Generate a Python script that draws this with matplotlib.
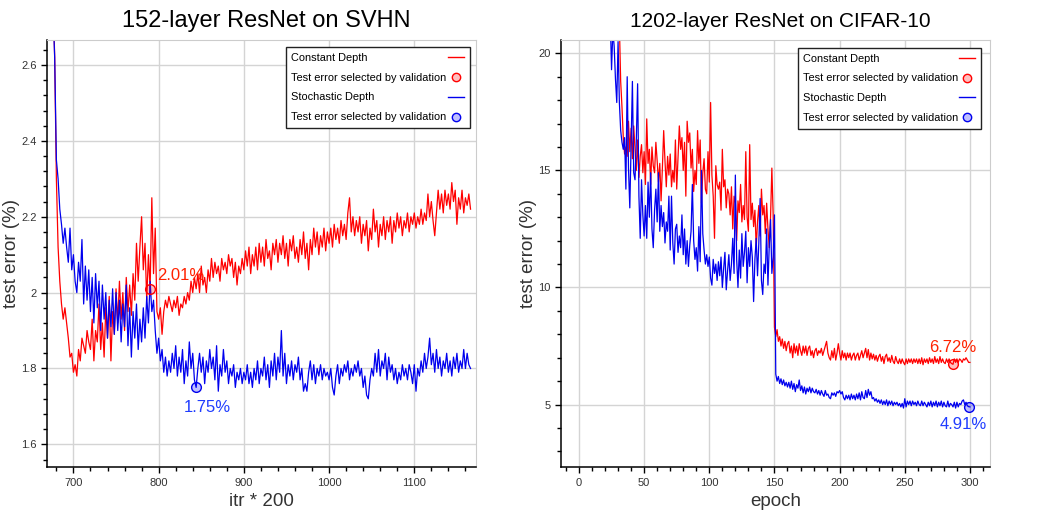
import numpy as np
import matplotlib
matplotlib.use('Agg')
import matplotlib.pyplot as plt
from matplotlib.lines import Line2D
from matplotlib.ticker import MultipleLocator, FormatStrFormatter

plt.rcParams['font.family'] = ['Liberation Sans', 'DejaVu Sans']

# ---- 152-layer ResNet on SVHN (one value every 2 itr*200, from 676)
svhn_start = 676
svhn_step = 2
svhn_const = [
    2.80, 2.62, 2.30, 2.12, 2.03, 1.97, 1.93, 1.96, 1.92, 1.88,
    1.83, 1.84, 1.79, 1.81, 1.78, 1.85, 1.82, 1.88, 1.86, 1.84,
    1.90, 1.87, 1.85, 1.93, 1.82, 1.90, 1.87, 1.97, 1.85, 1.92,
    1.83, 1.96, 1.88, 1.99, 1.82, 1.95, 1.89, 2.01, 1.92, 2.03,
    1.93, 2.00, 1.90, 2.04, 1.95, 2.02, 1.94, 2.05, 1.98, 2.13,
    2.03, 2.12, 2.20, 2.06, 2.13, 1.98, 2.10, 2.01, 2.25, 2.05,
    2.17, 1.95, 1.93, 1.96, 1.89, 1.95, 1.98, 1.96, 1.99, 1.97,
    1.95, 1.98, 1.96, 1.99, 1.94, 1.97, 1.96, 1.99, 1.97, 2.00,
    1.98, 2.03, 2.00, 2.04, 2.01, 2.05, 2.00, 2.07, 2.02, 2.04,
    2.00, 2.06, 2.03, 2.09, 2.04, 2.08, 2.05, 2.07, 2.03, 2.09,
    2.06, 2.08, 2.05, 2.10, 2.07, 2.09, 2.04, 2.08, 2.02, 2.07,
    2.05, 2.09, 2.06, 2.11, 2.07, 2.12, 2.05, 2.10, 2.07, 2.12,
    2.06, 2.13, 2.08, 2.12, 2.07, 2.14, 2.09, 2.11, 2.06, 2.13,
    2.10, 2.14, 2.08, 2.13, 2.10, 2.15, 2.09, 2.13, 2.07, 2.14,
    2.11, 2.15, 2.09, 2.12, 2.08, 2.14, 2.10, 2.16, 2.09, 2.13,
    2.06, 2.14, 2.10, 2.17, 2.12, 2.16, 2.10, 2.15, 2.12, 2.17,
    2.11, 2.16, 2.13, 2.17, 2.12, 2.18, 2.14, 2.17, 2.13, 2.19,
    2.15, 2.18, 2.14, 2.21, 2.25, 2.16, 2.20, 2.15, 2.19, 2.16,
    2.20, 2.13, 2.18, 2.15, 2.19, 2.11, 2.17, 2.14, 2.22, 2.16,
    2.19, 2.12, 2.18, 2.15, 2.20, 2.14, 2.19, 2.16, 2.20, 2.13,
    2.19, 2.16, 2.21, 2.17, 2.20, 2.15, 2.19, 2.17, 2.21, 2.16,
    2.20, 2.18, 2.21, 2.17, 2.20, 2.18, 2.22, 2.18, 2.21, 2.19,
    2.26, 2.20, 2.24, 2.19, 2.15, 2.21, 2.27, 2.22, 2.26, 2.21,
    2.27, 2.23, 2.26, 2.22, 2.29, 2.24, 2.27, 2.18, 2.25, 2.22,
    2.27, 2.21, 2.25, 2.23, 2.26, 2.22]
svhn_stoch = [
    2.75, 2.62, 2.35, 2.30, 2.22, 2.18, 2.13, 2.17, 2.12, 2.08,
    2.17, 2.06, 2.10, 2.03, 2.00, 2.08, 2.03, 2.14, 1.97, 2.07,
    1.98, 2.06, 1.95, 2.04, 1.92, 2.05, 1.96, 2.03, 1.90, 2.02,
    1.93, 2.00, 1.88, 1.98, 1.91, 2.01, 1.89, 2.00, 1.90, 1.98,
    1.87, 1.97, 1.91, 2.02, 1.86, 1.96, 1.83, 1.95, 1.88, 1.97,
    1.85, 1.93, 1.87, 1.96, 1.88, 1.99, 1.92, 2.03, 1.95, 1.98,
    1.90, 1.84, 1.88, 1.82, 1.85, 1.79, 1.83, 1.78, 1.82, 1.79,
    1.84, 1.80, 1.86, 1.78, 1.83, 1.79, 1.85, 1.76, 1.82, 1.78,
    1.87, 1.80, 1.84, 1.77, 1.75, 1.80, 1.84, 1.79, 1.83, 1.76,
    1.82, 1.79, 1.85, 1.80, 1.83, 1.77, 1.86, 1.74, 1.81, 1.78,
    1.85, 1.79, 1.82, 1.76, 1.80, 1.78, 1.81, 1.75, 1.79, 1.77,
    1.80, 1.76, 1.79, 1.77, 1.81, 1.76, 1.79, 1.75, 1.80, 1.77,
    1.82, 1.76, 1.80, 1.78, 1.83, 1.77, 1.81, 1.75, 1.82, 1.78,
    1.84, 1.77, 1.83, 1.79, 1.90, 1.78, 1.84, 1.76, 1.81, 1.78,
    1.82, 1.77, 1.81, 1.79, 1.83, 1.77, 1.80, 1.74, 1.76, 1.74,
    1.79, 1.82, 1.77, 1.81, 1.76, 1.80, 1.78, 1.81, 1.77, 1.80,
    1.78, 1.79, 1.77, 1.80, 1.75, 1.73, 1.78, 1.81, 1.76, 1.80,
    1.78, 1.81, 1.79, 1.82, 1.77, 1.80, 1.78, 1.81, 1.79, 1.82,
    1.78, 1.80, 1.75, 1.78, 1.73, 1.72, 1.77, 1.80, 1.78, 1.84,
    1.79, 1.85, 1.78, 1.82, 1.80, 1.84, 1.77, 1.83, 1.79, 1.81,
    1.77, 1.80, 1.76, 1.79, 1.77, 1.81, 1.78, 1.80, 1.77, 1.81,
    1.79, 1.76, 1.81, 1.74, 1.80, 1.78, 1.82, 1.79, 1.84, 1.80,
    1.83, 1.88, 1.81, 1.84, 1.79, 1.85, 1.80, 1.83, 1.78, 1.82,
    1.80, 1.84, 1.79, 1.82, 1.78, 1.83, 1.80, 1.84, 1.79, 1.82,
    1.80, 1.85, 1.80, 1.84, 1.81, 1.80]
svhn_best_itr = [790, 844]
svhn_best_err = [2.01, 1.75]

# ---- 1202-layer ResNet on CIFAR-10 (one value per epoch)
cifar_const_start = 29
cifar_const = [
    21.5, 20.7, 21.2, 18.8, 17.7, 16.4, 15.7, 16.0, 15.6, 17.1,
    15.8, 16.8, 15.5, 16.9, 15.9, 15.0, 16.3, 14.7, 15.6, 16.1,
    14.9, 15.8, 14.4, 17.2, 15.3, 15.9, 14.4, 16.0, 15.2, 14.9,
    16.2, 15.4, 14.5, 15.3, 13.7, 15.1, 16.7, 15.4, 14.3, 15.6,
    14.8, 15.7, 14.3, 15.0, 14.5, 16.3, 14.2, 15.5, 16.9, 15.9,
    16.4, 15.0, 16.2, 13.9, 17.1, 16.2, 16.6, 15.1, 15.9, 14.1,
    15.0, 14.4, 16.7, 15.3, 16.3, 13.6, 14.9, 15.5, 14.2, 14.0,
    15.8, 14.5, 17.9, 14.8, 13.9, 12.1, 15.2, 14.4, 14.2, 14.5,
    13.3, 15.9, 14.3, 14.6, 13.4, 14.2, 14.0, 13.1, 14.3, 12.5,
    13.9, 13.6, 12.0, 13.7, 13.2, 14.4, 12.8, 13.5, 12.9, 15.8,
    13.0, 12.4, 16.1, 12.9, 13.6, 12.6, 13.3, 11.7, 12.8, 13.5,
    12.2, 14.2, 13.1, 13.5, 12.3, 13.6, 12.5, 11.7, 13.0, 15.1,
    13.1, 8.3,
    7.9, 8.2, 7.7, 7.9, 7.5, 7.8, 7.4, 7.7, 7.3, 7.6,
    7.7, 7.2, 7.5, 7.0, 7.6, 7.2, 7.5, 7.1, 7.6, 7.3,
    7.1, 7.5, 7.2, 7.5, 7.1, 7.4, 7.5, 7.1, 7.3, 7.0,
    7.3, 7.4, 7.1, 7.3, 7.2, 7.4, 7.1, 7.3, 7.5, 7.7,
    7.2, 7.0, 6.9, 7.3, 7.0, 7.4, 6.9, 7.2, 7.6, 7.2,
    6.9, 7.3, 7.0, 7.2, 6.9, 7.2, 7.0, 7.2, 6.9, 7.1,
    7.2, 6.9, 7.1, 7.2, 6.9, 7.1, 7.3, 7.0, 7.2, 7.4,
    7.0, 7.35, 6.9, 7.2, 6.95, 7.15, 6.9, 7.1, 6.85, 7.05,
    7.15, 6.85, 7.05, 6.75, 7.05, 7.15, 6.85, 7.0, 6.8, 7.1,
    6.85, 6.75, 7.05, 6.85, 6.75, 6.95, 6.75, 6.95, 6.8, 6.7,
    6.95, 6.75, 6.95, 6.8, 6.95, 6.75, 6.95, 6.8, 6.95, 6.75,
    6.95, 6.75, 7.0, 6.7, 6.95, 6.8, 6.95, 6.75, 7.0, 6.8,
    6.95, 6.75, 7.05, 6.8, 6.95, 6.75, 7.05, 6.8, 6.95, 6.8,
    6.75, 6.95, 6.8, 6.95, 6.8, 6.75, 6.72, 6.95, 6.8, 6.95,
    6.8, 6.95, 6.9, 6.8, 6.95, 6.9, 7.0, 6.9, 6.8, 6.8]
cifar_stoch_start = 24
cifar_stoch = [
    21.5, 19.3, 21.0, 20.3, 18.9, 17.9, 20.5, 17.9, 16.7, 16.2,
    15.9, 16.4, 14.2, 19.0, 15.1, 13.4, 16.2, 18.8, 14.9, 14.6,
    16.3, 18.7, 13.9, 12.1, 14.6, 13.1, 12.2, 13.5, 12.1, 14.5,
    13.0, 14.9, 12.5, 11.7, 13.3, 14.2, 12.8, 14.9, 12.4, 13.5,
    12.6, 13.2, 11.9, 12.8, 12.4, 13.9, 11.6, 13.9, 11.9, 11.0,
    12.5, 12.7, 11.5, 12.2, 11.7, 13.1, 11.4, 12.5, 11.0, 12.0,
    10.9, 11.8, 12.4, 14.4, 12.0, 11.2, 11.7, 10.7, 12.6, 11.1,
    15.0, 12.3, 11.6, 11.0, 11.4, 10.9, 11.3, 10.4, 10.1, 11.2,
    10.6, 11.0, 10.3, 11.1, 10.5, 11.3, 10.0, 10.8, 11.5, 9.9,
    10.7, 11.4, 10.3, 11.0, 12.1, 10.6, 14.8, 11.2, 10.0, 11.6,
    10.4, 12.3, 10.9, 11.5, 12.4, 10.2, 11.7, 10.9, 12.0, 11.3,
    9.4, 11.2, 12.1, 10.5, 11.9, 13.8, 10.3, 9.7, 11.0, 10.6,
    12.5, 10.1, 11.8, 12.9, 10.6, 11.3, 13.1,
    6.3, 6.0, 6.2, 5.9, 6.1, 5.85, 6.05, 5.8, 5.95, 5.75,
    5.95, 5.7, 6.0, 5.65, 5.9, 5.55, 5.85, 5.7, 6.05, 5.6,
    5.8, 5.5, 5.75, 5.45, 5.7, 5.55, 5.75, 5.5, 5.7, 5.55,
    5.5, 5.65, 5.45, 5.6, 5.4, 5.6, 5.45, 5.35, 5.6, 5.4,
    5.45, 5.3, 5.25, 5.5, 5.4, 5.5, 5.35, 5.55, 5.5, 5.6,
    5.45, 5.55, 5.3, 5.2, 5.4, 5.25, 5.4, 5.2, 5.45, 5.25,
    5.4, 5.2, 5.45, 5.25, 5.5, 5.2, 5.55, 5.3, 5.25, 5.6,
    5.3, 5.65, 5.4, 5.55, 5.25, 5.3, 5.15, 5.25, 5.1, 5.2,
    5.05, 5.2, 5.0, 5.15, 5.0, 5.2, 4.95, 5.15, 5.0, 5.15,
    4.95, 5.1, 5.0, 5.1, 4.95, 5.05, 4.9, 5.05, 4.85, 5.25,
    4.9, 5.15, 5.0, 5.15, 4.95, 5.15, 5.0, 5.1, 4.95, 5.15,
    5.0, 4.95, 5.15, 4.95, 5.1, 5.0, 4.9, 5.1, 4.95, 5.15,
    4.9, 5.1, 4.95, 5.15, 4.9, 5.1, 4.95, 5.15, 4.9, 5.1,
    4.95, 4.9, 5.15, 4.9, 5.05, 5.0, 4.9, 5.1, 4.85, 5.1,
    4.9, 5.05, 5.0, 5.15, 5.2, 5.0, 5.1, 4.95, 4.91, 4.9]
cifar_best_epoch = [287, 299]
cifar_best_err = [6.72, 4.91]

RED = '#ff0000'
BLUE = '#0000ee'


def style(ax, label_x, anchor, row_px):
    ax.grid(True, color='#d4d4d4', lw=1)
    ax.set_axisbelow(True)
    for s in ['top', 'right']:
        ax.spines[s].set_color('#cccccc')
    for s in ['left', 'bottom']:
        ax.spines[s].set_color('black')
        ax.spines[s].set_linewidth(1.1)
    ax.tick_params(which='both', direction='out', color='black', width=1,
                   labelsize=8, labelcolor='#333333')
    ax.tick_params(which='major', length=4)
    ax.tick_params(which='minor', length=3)
    ax.tick_params(top=False, right=False)
    ax.yaxis.set_label_coords(label_x, 0.5)
    handles = [Line2D([], [], color=RED, lw=1),
               Line2D([], [], ls='none', marker='o', ms=6, mew=1,
                      mec=RED, mfc=(1, 0, 0, 0.25)),
               Line2D([], [], color=BLUE, lw=1),
               Line2D([], [], ls='none', marker='o', ms=6, mew=1,
                      mec=BLUE, mfc=(0, 0, 1, 0.25))]
    labels = ['Constant Depth', 'Test error selected by validation',
              'Stochastic Depth', 'Test error selected by validation']
    leg = ax.legend(handles, labels, loc='upper right',
                    bbox_to_anchor=anchor, borderaxespad=0,
                    fontsize=7.9, markerfirst=False, fancybox=False,
                    framealpha=1, handlelength=1.5, labelspacing=0.9,
                    borderpad=0.5, handletextpad=0.3)
    leg.get_frame().set_edgecolor('#222222')
    leg.get_frame().set_linewidth(1)
    # text left, handle right: stretch every legend row to the same width
    for col in leg._legend_handle_box.get_children():
        for row in col.get_children():
            row.mode = 'expand'
            row.width = row_px


fig, (ax1, ax2) = plt.subplots(1, 2, figsize=(10.54, 5.26), dpi=100)
fig.subplots_adjust(left=0.0446, right=0.9393, bottom=0.112, top=0.924,
                    wspace=0.2)

# left panel
x1 = np.arange(svhn_start, svhn_start + svhn_step * len(svhn_const), svhn_step)
ax1.plot(x1, svhn_const, color=RED, lw=0.9)
ax1.plot(x1, svhn_stoch, color=BLUE, lw=0.9)
ax1.plot(svhn_best_itr[0], svhn_best_err[0], 'o', ms=7, mew=1,
         mec=RED, mfc=(1, 0, 0, 0.25))
ax1.plot(svhn_best_itr[1], svhn_best_err[1], 'o', ms=7, mew=1,
         mec=BLUE, mfc=(0, 0, 1, 0.25))
ax1.annotate('%.2f%%' % svhn_best_err[0], (svhn_best_itr[0], svhn_best_err[0]),
             xytext=(5, 9.5), textcoords='offset points', ha='left',
             va='center', color='#ff2200', fontsize=12)
ax1.annotate('%.2f%%' % svhn_best_err[1], (svhn_best_itr[1], svhn_best_err[1]),
             xytext=(8, -14.5), textcoords='offset points', ha='center',
             va='center', color='#1f3cff', fontsize=12)
ax1.set_xlim(669, 1172)
ax1.set_ylim(1.54, 2.666)
ax1.xaxis.set_major_locator(MultipleLocator(100))
ax1.xaxis.set_minor_locator(MultipleLocator(20))
ax1.yaxis.set_major_locator(MultipleLocator(0.2))
ax1.yaxis.set_minor_locator(MultipleLocator(0.04))
ax1.yaxis.set_major_formatter(FormatStrFormatter('%g'))
ax1.set_title('152-layer ResNet on SVHN', fontsize=17, x=0.512, pad=9)
ax1.set_xlabel('itr * 200', fontsize=13.5, color='#333333')
ax1.set_ylabel('test error (%)', fontsize=13.5, color='#333333')
style(ax1, -0.064, (0.986, 0.983), 173)

# right panel
x2c = np.arange(cifar_const_start, cifar_const_start + len(cifar_const))
x2s = np.arange(cifar_stoch_start, cifar_stoch_start + len(cifar_stoch))
ax2.plot(x2c, cifar_const, color=RED, lw=0.9)
ax2.plot(x2s, cifar_stoch, color=BLUE, lw=0.9)
ax2.plot(cifar_best_epoch[0], cifar_best_err[0], 'o', ms=7, mew=1,
         mec=RED, mfc=(1, 0, 0, 0.25))
ax2.plot(cifar_best_epoch[1], cifar_best_err[1], 'o', ms=7, mew=1,
         mec=BLUE, mfc=(0, 0, 1, 0.25))
ax2.annotate('%.2f%%' % cifar_best_err[0], (cifar_best_epoch[0], cifar_best_err[0]),
             xytext=(0, 12), textcoords='offset points', ha='center',
             va='center', color='#ff2200', fontsize=12)
ax2.annotate('%.2f%%' % cifar_best_err[1], (cifar_best_epoch[1], cifar_best_err[1]),
             xytext=(-4, -13), textcoords='offset points', ha='center',
             va='center', color='#1f3cff', fontsize=12)
ax2.set_xlim(-13.5, 315.4)
ax2.set_ylim(2.33, 20.57)
ax2.xaxis.set_major_locator(MultipleLocator(50))
ax2.xaxis.set_minor_locator(MultipleLocator(10))
ax2.yaxis.set_major_locator(MultipleLocator(5))
ax2.yaxis.set_minor_locator(MultipleLocator(1))
ax2.set_title('1202-layer ResNet on CIFAR-10', fontsize=15, x=0.51, pad=9)
ax2.set_xlabel('epoch', fontsize=13.5, color='#333333')
ax2.set_ylabel('test error (%)', fontsize=13.5, color='#333333')
style(ax2, -0.058, (0.978, 0.981), 172)

plt.savefig('out.png', dpi=100)
